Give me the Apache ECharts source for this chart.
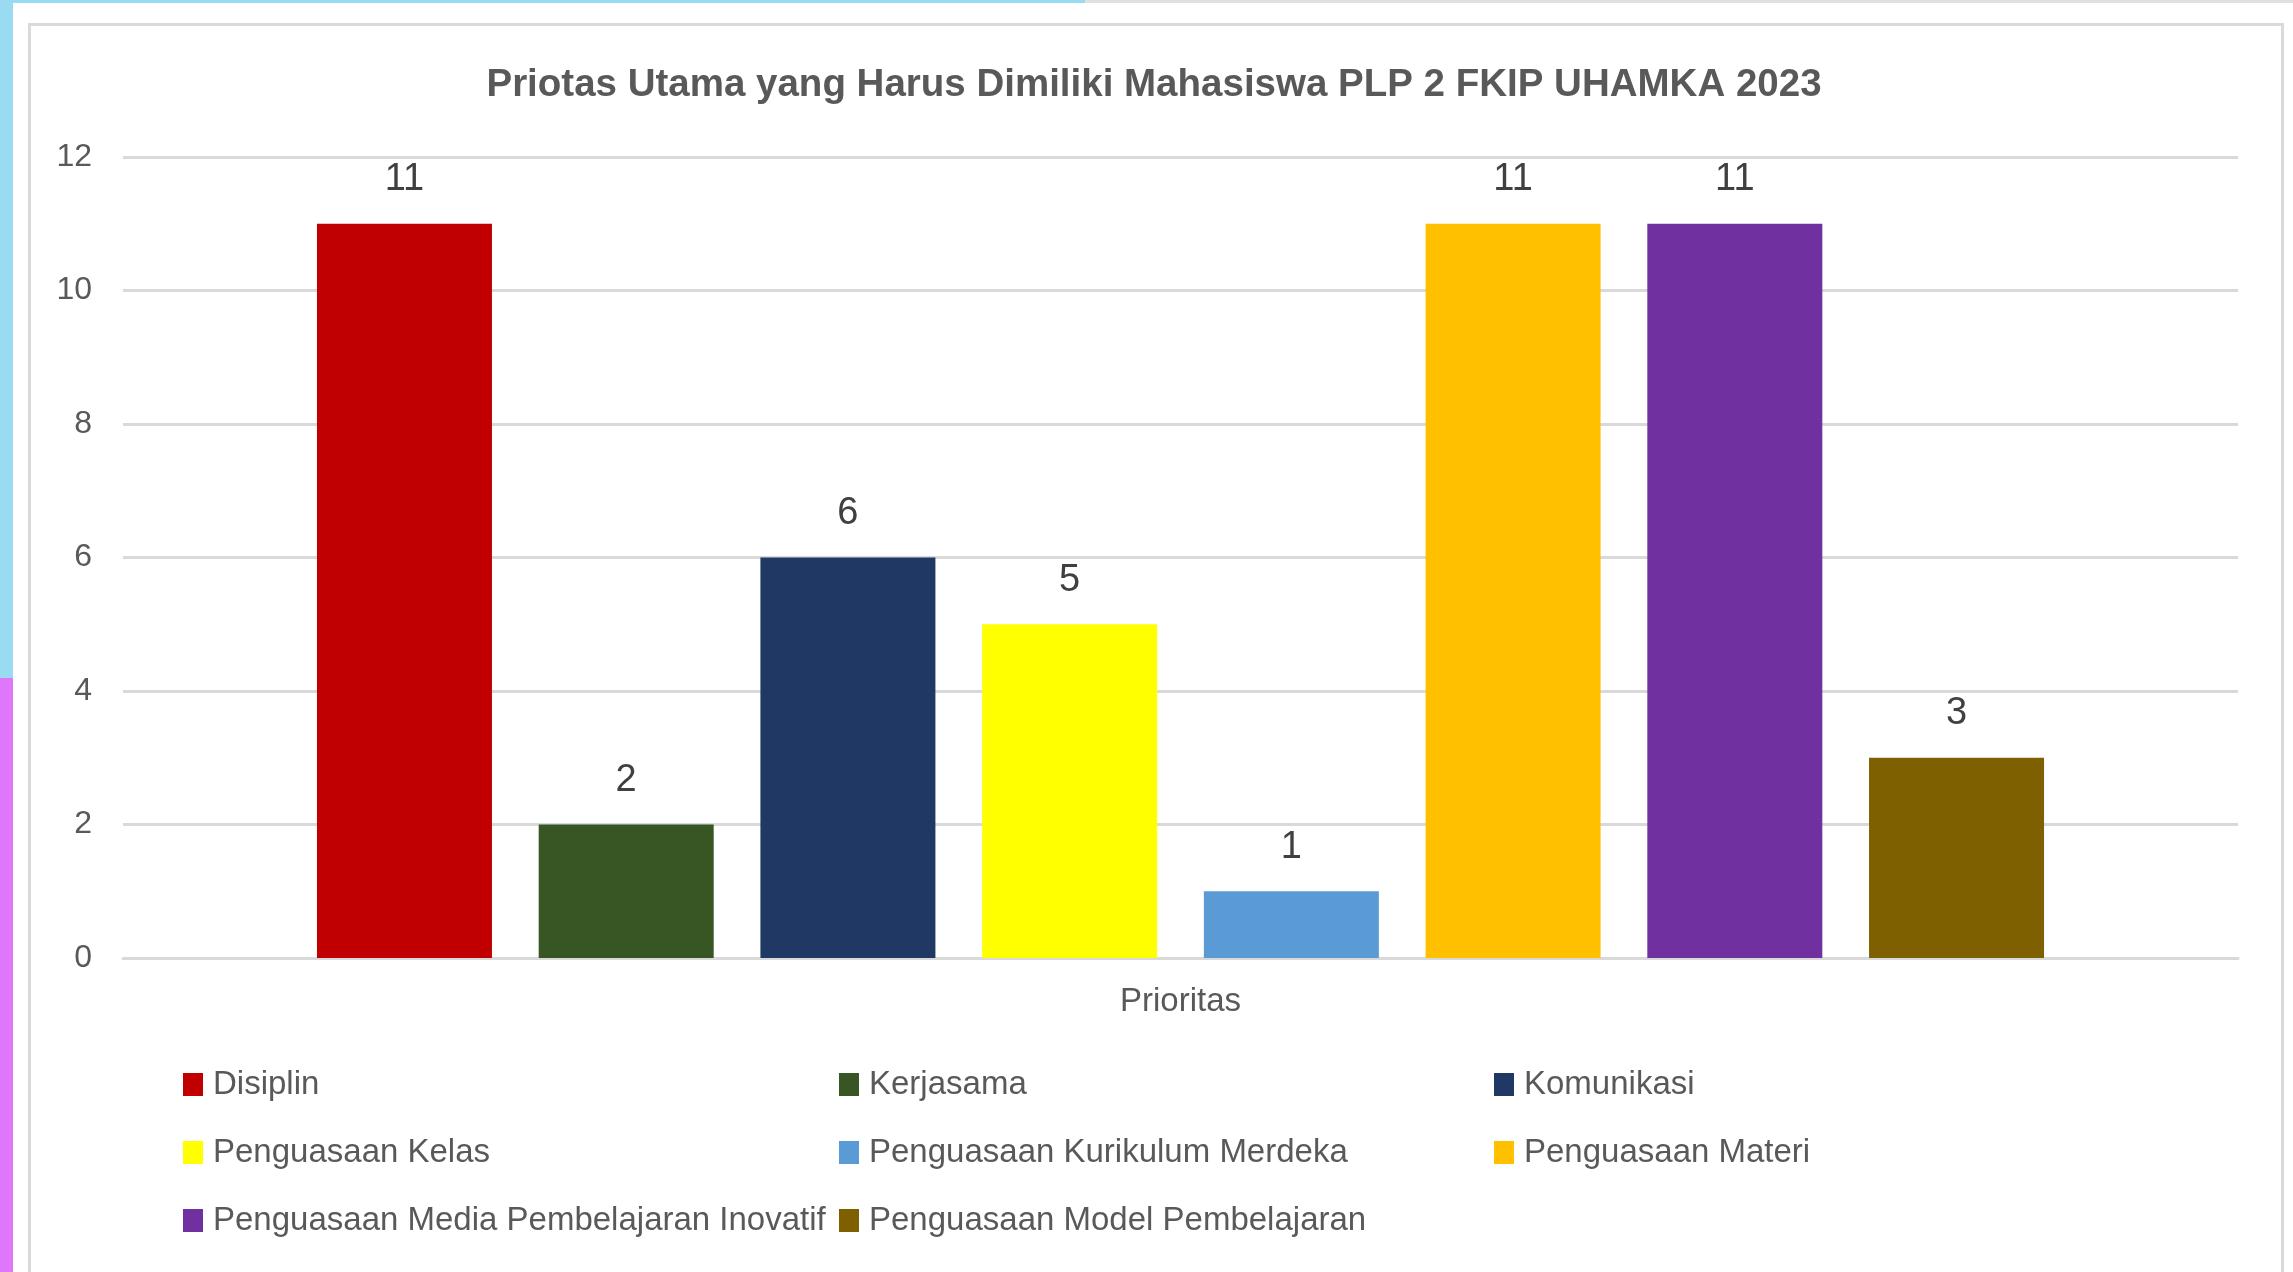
<!DOCTYPE html>
<html>
<head>
<meta charset="utf-8">
<script src="https://cdn.jsdelivr.net/npm/echarts@6/dist/echarts.min.js"></script>
<style>
  html, body { margin: 0; padding: 0; background: #fff; }
  #wrap { position: relative; width: 2293px; height: 1272px; overflow: hidden; }
  .deco { position: absolute; }
  #main { position: absolute; left: 0; top: 0; width: 2293px; height: 1272px; }
</style>
</head>
<body>
<div id="wrap">
  <!-- bits of the slide around the chart -->
  <div class="deco" style="left:0;top:0;width:1085px;height:3px;background:#99dcf2"></div>
  <div class="deco" style="left:1085px;top:0;width:1208px;height:3px;background:#e0e0e0"></div>
  <div class="deco" style="left:0;top:0;width:13px;height:678px;background:#99dcf2"></div>
  <div class="deco" style="left:0;top:678px;width:13px;height:594px;background:#e077fa"></div>
  <div class="deco" style="left:28px;top:23px;width:2256px;height:1280px;border:3px solid #d9d9d9;box-sizing:border-box"></div>
  <div id="main"></div>
</div>
<script>
// data
const categories = ["Prioritas"];
const seriesNames = [
  "Disiplin",
  "Kerjasama",
  "Komunikasi",
  "Penguasaan Kelas",
  "Penguasaan Kurikulum Merdeka",
  "Penguasaan Materi",
  "Penguasaan Media Pembelajaran Inovatif",
  "Penguasaan Model Pembelajaran"
];
const seriesValues = [11, 2, 6, 5, 1, 11, 11, 3];
const seriesColors = ["#c00000", "#375623", "#203864", "#ffff00", "#5b9bd5", "#ffc000", "#7030a0", "#7f6000"];
const yTicks = [0, 2, 4, 6, 8, 10, 12];

const font = "Liberation Sans";

// legend is 3 columns, build one vertical legend per column
const legendCols = [
  [seriesNames[0], seriesNames[3], seriesNames[6]],
  [seriesNames[1], seriesNames[4], seriesNames[7]],
  [seriesNames[2], seriesNames[5]]
];
const legendLeft = [183, 839, 1494];
let legends = legendCols.map((col, i) => ({
  data: col,
  orient: "vertical",
  left: legendLeft[i],
  top: 1068,
  padding: 0,
  itemWidth: 20,
  itemHeight: 23,
  itemGap: 35,
  icon: "rect",
  selectedMode: false,
  textStyle: {
    fontFamily: font,
    fontSize: 33,
    color: "#595959",
    padding: [0, 0, 0, 5]
  }
}));

let series_list = seriesNames.map((name, i) => ({
  name: name,
  type: "bar",
  data: [seriesValues[i]],
  barWidth: 175,
  barGap: "26.7%",
  itemStyle: { color: seriesColors[i] },
  label: {
    show: true,
    position: "top",
    distance: 25,
    fontFamily: font,
    fontSize: 38,
    color: "#404040"
  }
}));

let myChart = echarts.init(document.getElementById("main"));
myChart.setOption({
  backgroundColor: "transparent",
  animation: false,
  title: {
    text: "Priotas Utama yang Harus Dimiliki Mahasiswa PLP 2 FKIP UHAMKA 2023",
    left: 1154,
    top: 66,
    padding: 0,
    textAlign: "center",
    textStyle: {
      fontFamily: font,
      fontSize: 38.5,
      fontWeight: "bold",
      color: "#595959"
    }
  },
  legend: legends,
  grid: {
    left: 123,
    right: 55,
    top: 157,
    bottom: 314
  },
  xAxis: {
    type: "category",
    data: categories,
    axisLine: { lineStyle: { color: "#d9d9d9", width: 3 } },
    axisTick: { show: false },
    axisLabel: {
      margin: 27,
      fontFamily: font,
      fontSize: 33,
      color: "#595959"
    }
  },
  yAxis: {
    type: "value",
    min: yTicks[0],
    max: yTicks[yTicks.length - 1],
    interval: yTicks[1] - yTicks[0],
    axisLine: { show: false },
    axisTick: { show: false },
    axisLabel: {
      margin: 31,
      fontFamily: font,
      fontSize: 32,
      color: "#595959"
    },
    splitLine: { lineStyle: { color: "#d9d9d9", width: 3 } }
  },
  series: series_list
});
</script>
</body>
</html>
